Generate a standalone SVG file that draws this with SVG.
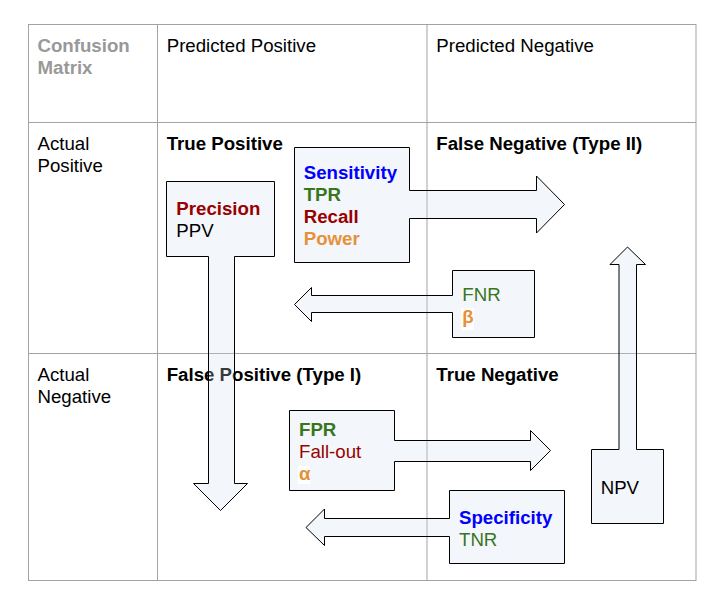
<svg xmlns="http://www.w3.org/2000/svg" width="721" height="605" viewBox="0 0 721 605">
<style>
text{font-family:"Liberation Sans",Arial,sans-serif;font-size:18.67px;fill:#000}
.b{font-weight:bold}
.grey{fill:#999999}
.blue{fill:#0000ff}
.green{fill:#38761d}
.red{fill:#990000}
.orange{fill:#e69138}
.grid{stroke:#a3a3a3;stroke-width:1;fill:none}
.call{fill:#cfdff0;fill-opacity:0.26;stroke:#000;stroke-width:1;stroke-linejoin:miter}
</style>
<rect width="721" height="605" fill="#fff"/>
<g id="grid" class="grid">
<rect x="28.5" y="24.5" width="667.5" height="556"/>
<line x1="157.5" y1="24.5" x2="157.5" y2="580.5"/>
<line x1="427" y1="24.5" x2="427" y2="580.5"/>
<line x1="28.5" y1="122.5" x2="696" y2="122.5"/>
<line x1="28.5" y1="353.5" x2="696" y2="353.5"/>
</g>
<g id="cell-header">
<text class="b grey" x="37.5" y="52.3">Confusion</text>
<text class="b grey" x="37.5" y="74.3">Matrix</text>
</g>
<g id="cell-pred-pos"><text x="166.7" y="52.3">Predicted Positive</text></g>
<g id="cell-pred-neg"><text x="436.3" y="52.3">Predicted Negative</text></g>
<g id="cell-act-pos"><text x="37.5" y="150">Actual</text><text x="37.5" y="172">Positive</text></g>
<g id="cell-act-neg"><text x="37.5" y="381">Actual</text><text x="37.5" y="403">Negative</text></g>
<g id="cell-tp"><text class="b" x="166.7" y="150">True Positive</text></g>
<g id="cell-fn"><text class="b" x="436.3" y="150">False Negative (Type II)</text></g>
<g id="cell-fp"><text class="b" x="166.7" y="381">False Positive (Type I)</text></g>
<g id="cell-tn"><text class="b" x="436.3" y="381">True Negative</text></g>

<g id="connectors">
<path id="arrow-precision" class="call" d="M166.5,181.5 H274.5 V256.5 H234.5 V483.5 H247.5 L220.5,510.5 L193.5,483.5 H208.5 V256.5 H166.5 Z"/>
<path id="arrow-sensitivity" class="call" d="M294.5,147.5 H409.5 V190.5 H536.5 V176 L564.5,204.5 L536.5,233 V218.5 H409.5 V262.5 H294.5 Z"/>
<path id="arrow-fnr" class="call" d="M452.5,270.5 H534.5 V337.5 H452.5 V312.5 H311.5 V321.5 L294.5,304.5 L311.5,287.5 V295.5 H452.5 Z"/>
<path id="arrow-fpr" class="call" d="M289.5,410.5 H394.5 V440.5 H530.5 V430.5 L550.5,450.5 L530.5,470.5 V461.5 H394.5 V490.5 H289.5 Z"/>
<path id="arrow-specificity" class="call" d="M449.5,490.5 H564.5 V563.5 H449.5 V536.5 H324.5 V545.5 L306,527.5 L324.5,509 V518.5 H449.5 Z"/>
<path id="arrow-npv" class="call" d="M591.5,449.5 H619 V264.5 H610 L627.5,247 L645.5,264.5 H636.5 V449.5 H663.5 V523.5 H591.5 Z"/>
</g>

<g id="node-precision">
<text class="b red" x="176.3" y="215">Precision</text>
<text x="176.3" y="237">PPV</text>
</g>
<g id="node-sensitivity">
<text class="b blue" x="303.7" y="178.5">Sensitivity</text>
<text class="b green" x="303.7" y="200.5">TPR</text>
<text class="b red" x="303.7" y="222.5">Recall</text>
<text class="b orange" x="303.7" y="244.5">Power</text>
</g>
<g id="node-fnr">
<text class="green" x="462.3" y="300.5">FNR</text>
<rect x="461" y="308" width="13" height="22" fill="#fff"/>
<text class="b orange" x="462.3" y="322.5">β</text>
</g>
<g id="node-fpr">
<text class="b green" x="299" y="435.5">FPR</text>
<text class="red" x="299" y="457.5">Fall-out</text>
<rect x="298" y="466" width="12" height="18" fill="#fff"/>
<text class="b orange" x="299" y="479.5">α</text>
</g>
<g id="node-specificity">
<text class="b blue" x="459" y="523.5">Specificity</text>
<text class="green" x="459" y="545.5">TNR</text>
</g>
<g id="node-npv">
<text x="600.7" y="493.5">NPV</text>
</g>
</svg>
